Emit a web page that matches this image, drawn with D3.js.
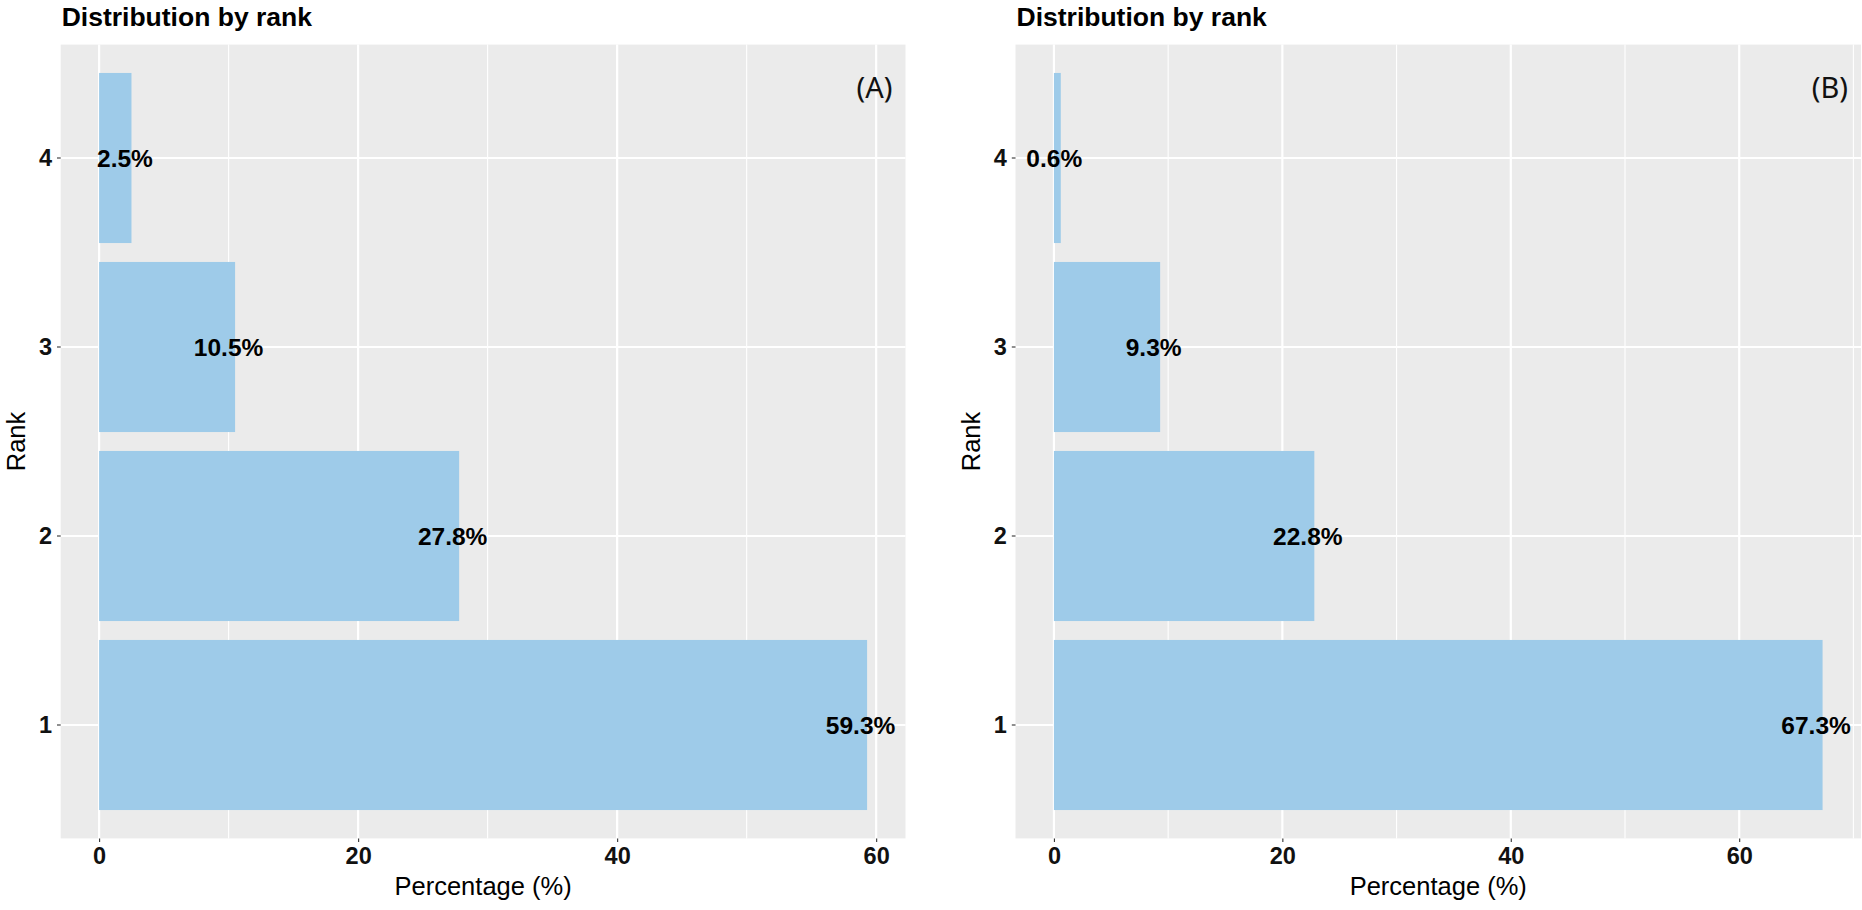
<!DOCTYPE html>
<html>
<head>
<meta charset="utf-8">
<script src="https://cdn.jsdelivr.net/npm/d3@7"></script>
<style>
  body { margin: 0; background: #fff; }
  svg { display: block; }
  text { font-family: "Liberation Sans", Arial, Helvetica, sans-serif; }
</style>
</head>
<body>
<div id="chart"></div>
<script>
/**
 * DATA
 * */
const ranks = ["1", "2", "3", "4"];
const valuesA = [59.3, 27.8, 10.5, 2.5];
const valuesB = [67.3, 22.8, 9.3, 0.6];
const xTicks = [0, 20, 40, 60];
const panelTags = ["(A)", "(B)"];
const chartTitle = "Distribution by rank";

/**
 * CONSTANTS
 * */
const width = 1862,
  height = 910;
const barColor = "#9ecbe9",
  panelBg = "#ebebeb";

const panels = [
  { values: valuesA, tag: panelTags[0], left: 60.7, right: 905.5 },
  { values: valuesB, tag: panelTags[1], left: 1015.5, right: 1861 },
];
const panelTop = 44.6,
  panelBottom = 838.4;

const svg = d3.select("#chart")
  .append("svg")
  .attr("width", width)
  .attr("height", height);

panels.forEach(drawPanel);

function drawPanel(p) {
  const maxV = d3.max(p.values);
  // ggplot style 5% expansion both sides
  const x = d3.scaleLinear()
    .domain([-0.05 * maxV, maxV * 1.05])
    .range([p.left, p.right]);

  const y = d3.scaleBand()
    .domain(ranks)
    .range([panelBottom, panelTop])
    .paddingInner(0.1)
    .paddingOuter(0.15);

  const g = svg.append("g");

  g.append("rect")
    .attr("x", p.left)
    .attr("y", panelTop)
    .attr("width", p.right - p.left)
    .attr("height", panelBottom - panelTop)
    .attr("fill", panelBg);

  // minor grid (halfway between majors, within limits)
  const minor = d3.range(10, x.domain()[1], 20);
  g.selectAll(".minor")
    .data(minor)
    .join("line")
    .attr("x1", d => x(d)).attr("x2", d => x(d))
    .attr("y1", panelTop).attr("y2", panelBottom)
    .attr("stroke", "#fff")
    .attr("stroke-width", 1.1);

  g.selectAll(".majorx")
    .data(xTicks)
    .join("line")
    .attr("x1", d => x(d)).attr("x2", d => x(d))
    .attr("y1", panelTop).attr("y2", panelBottom)
    .attr("stroke", "#fff")
    .attr("stroke-width", 2.2);

  g.selectAll(".majory")
    .data(ranks)
    .join("line")
    .attr("x1", p.left).attr("x2", p.right)
    .attr("y1", d => y(d) + y.bandwidth() / 2)
    .attr("y2", d => y(d) + y.bandwidth() / 2)
    .attr("stroke", "#fff")
    .attr("stroke-width", 2.2);

  // bars
  g.selectAll(".bar")
    .data(ranks)
    .join("rect")
    .attr("x", x(0))
    .attr("y", d => y(d))
    .attr("width", (d, i) => x(p.values[i]) - x(0))
    .attr("height", y.bandwidth())
    .attr("fill", barColor);

  // value labels
  g.selectAll(".lab")
    .data(ranks)
    .join("text")
    .attr("x", (d, i) => x(p.values[i]) - 6.5)
    .attr("y", d => y(d) + y.bandwidth() / 2)
    .attr("dy", "0.36em")
    .attr("text-anchor", "middle")
    .attr("font-size", 24.5)
    .attr("font-weight", "bold")
    .attr("fill", "#000")
    .text((d, i) => p.values[i].toFixed(1) + "%");

  // axes
  const xAxis = d3.axisBottom(x).tickValues(xTicks).tickSize(3.7).tickPadding(5);
  const xg = g.append("g")
    .attr("transform", `translate(0,${panelBottom})`)
    .call(xAxis);
  xg.select(".domain").remove();
  xg.selectAll(".tick line").attr("stroke", "#333").attr("stroke-width", 1.1);
  xg.selectAll(".tick text")
    .attr("font-size", 23.5)
    .attr("font-weight", "bold")
    .attr("fill", "#111")
    .attr("font-family", "Liberation Sans, Arial, sans-serif");

  const yAxis = d3.axisLeft(y).tickSize(3.7).tickPadding(5);
  const yg = g.append("g")
    .attr("transform", `translate(${p.left},0)`)
    .call(yAxis);
  yg.select(".domain").remove();
  yg.selectAll(".tick line").attr("stroke", "#333").attr("stroke-width", 1.1);
  yg.selectAll(".tick text")
    .attr("font-size", 23.5)
    .attr("font-weight", "bold")
    .attr("fill", "#111")
    .attr("font-family", "Liberation Sans, Arial, sans-serif");

  // titles
  g.append("text")
    .attr("x", p.left + 1)
    .attr("y", 26)
    .attr("font-size", 26.5)
    .attr("font-weight", "bold")
    .attr("fill", "#000")
    .text(chartTitle);

  g.append("text")
    .attr("x", (p.left + p.right) / 2)
    .attr("y", 895)
    .attr("text-anchor", "middle")
    .attr("font-size", 25.5)
    .attr("fill", "#000")
    .text("Percentage (%)");

  g.append("text")
    .attr("transform", `translate(${p.left - 36},${(panelTop + panelBottom) / 2}) rotate(-90)`)
    .attr("text-anchor", "middle")
    .attr("font-size", 25.5)
    .attr("fill", "#000")
    .text("Rank");

  // panel tag
  g.append("text")
    .attr("x", p.right - 13)
    .attr("y", 98)
    .attr("text-anchor", "end")
    .attr("font-size", 29)
    .attr("fill", "#111")
    .style("font-family", "'Noto Sans', 'Open Sans', sans-serif")
    .text(p.tag);
}
</script>
</body>
</html>
